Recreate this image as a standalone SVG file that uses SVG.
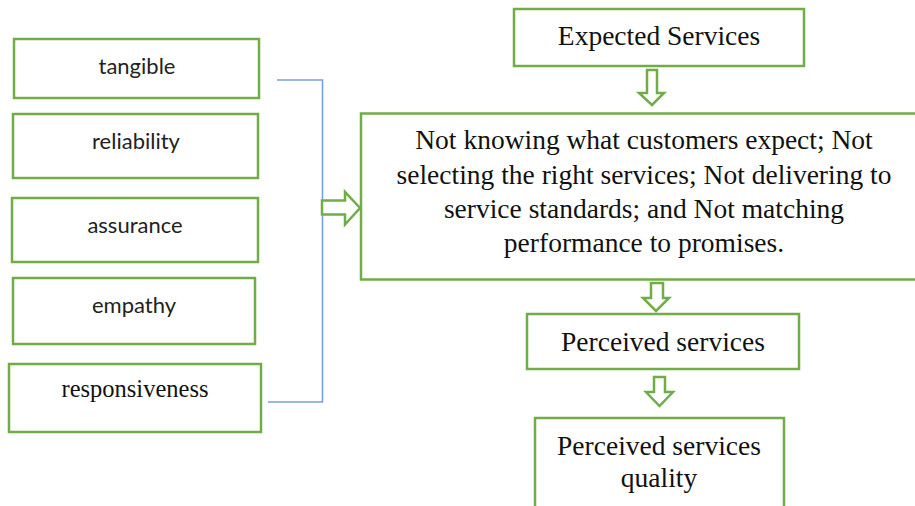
<svg xmlns="http://www.w3.org/2000/svg" width="915" height="506" viewBox="0 0 915 506">
<style>
.box{fill:#fff;stroke:#70AD47;stroke-width:2.5}
.arr{fill:#fff;stroke:#70AD47;stroke-width:2.5;stroke-linejoin:miter}
.sans{font-family:Lato,"Open Sans","Liberation Sans",sans-serif;font-size:22px;fill:#222;text-anchor:middle}
.serif{font-family:"Liberation Serif","Times New Roman",serif;font-size:27.5px;fill:#111;text-anchor:middle}
.link{fill:none;stroke:#7BA0E0;stroke-width:1.6}
</style>
<rect width="915" height="506" fill="#fff"/>
<g id="connectors">
<path class="link" d="M277,80 H322.5 V402 H268"/>
<polygon class="arr" points="322,200.5 345,200.5 345,192 360,208 345,224.5 345,214.5 322,214.5"/>
<polygon class="arr" points="647,70 657,70 657,93 664,93 652,105 639,93 647,93"/>
<polygon class="arr" points="651,283 663,283 663,298 669,298 656,311 643,298 651,298"/>
<polygon class="arr" points="654,377 665,377 665,392 673,392 659.5,406 646,392 654,392"/>
</g>
<g id="tangible">
<rect class="box" x="14" y="39" width="245" height="59"/>
<text class="sans" x="137" y="74">tangible</text>
</g>
<g id="reliability">
<rect class="box" x="13" y="114" width="245" height="64"/>
<text class="sans" x="136" y="149">reliability</text>
</g>
<g id="assurance">
<rect class="box" x="12" y="198" width="246" height="64"/>
<text class="sans" x="135" y="233">assurance</text>
</g>
<g id="empathy">
<rect class="box" x="13" y="278" width="242" height="66"/>
<text class="sans" x="134" y="313">empathy</text>
</g>
<g id="responsiveness">
<rect class="box" x="9" y="364" width="252" height="68"/>
<text class="serif" x="135" y="397" style="font-size:24.5px">responsiveness</text>
</g>
<g id="expected">
<rect class="box" x="514" y="9" width="290" height="57"/>
<text class="serif" x="659" y="45">Expected Services</text>
</g>
<g id="gaps">
<rect class="box" x="361" y="113.5" width="560" height="166"/>
<text class="serif" x="644" y="149">Not knowing what customers expect; Not</text>
<text class="serif" x="644" y="184">selecting the right services; Not delivering to</text>
<text class="serif" x="644" y="218">service standards; and Not matching</text>
<text class="serif" x="644" y="252">performance to promises.</text>
</g>
<g id="perceived">
<rect class="box" x="527" y="314" width="272" height="55"/>
<text class="serif" x="663" y="351">Perceived services</text>
</g>
<g id="quality">
<rect class="box" x="535" y="418" width="249" height="100"/>
<text class="serif" x="659" y="455">Perceived services</text>
<text class="serif" x="659" y="487">quality</text>
</g>
</svg>
